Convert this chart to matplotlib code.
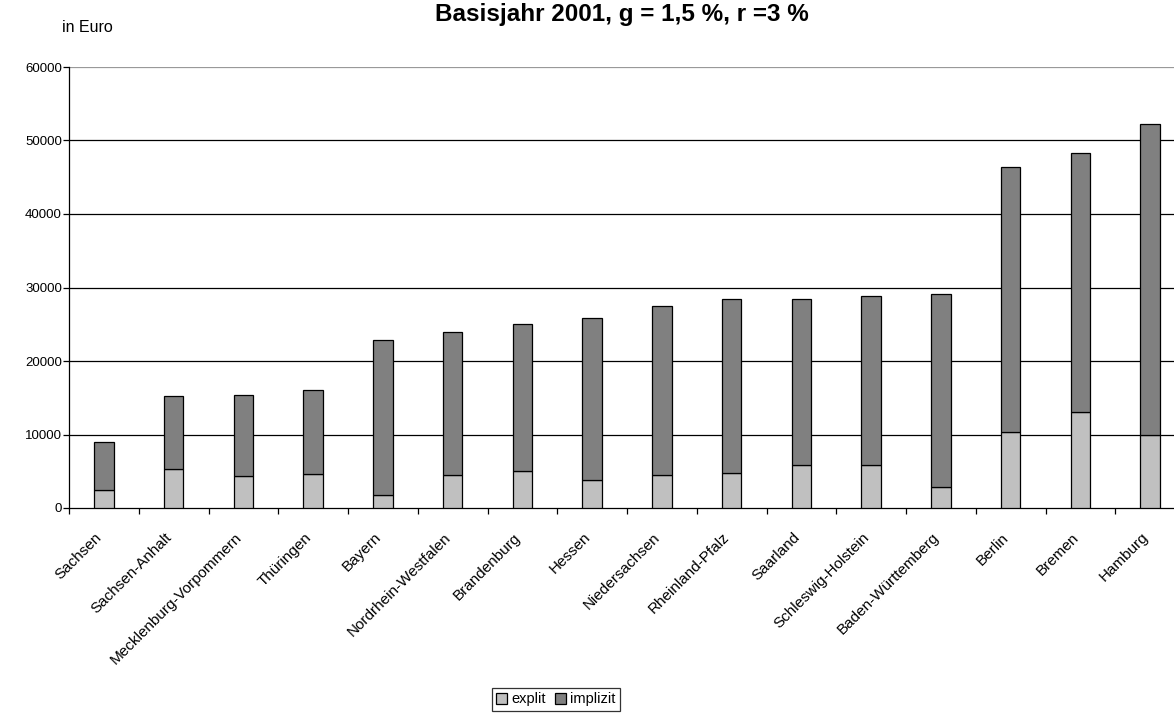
import matplotlib
matplotlib.use("Agg")
import matplotlib.pyplot as plt
import matplotlib.transforms as mtransforms
import numpy as np

plt.rcParams['font.family'] = ['Liberation Sans', 'DejaVu Sans']

categories = ["Sachsen", "Sachsen-Anhalt", "Mecklenburg-Vorpommern", "Thüringen", "Bayern",
              "Nordrhein-Westfalen", "Brandenburg", "Hessen", "Niedersachsen", "Rheinland-Pfalz",
              "Saarland", "Schleswig-Holstein", "Baden-Württemberg", "Berlin", "Bremen", "Hamburg"]
total = [9000, 15300, 15400, 16000, 22800, 24000, 25000, 25900, 27500, 28400,
         28500, 28900, 29100, 46400, 48300, 52200]
explizit = [2500, 5300, 4300, 4600, 1800, 4500, 5000, 3800, 4500, 4800,
            5800, 5800, 2900, 10400, 13100, 9900]
implizit = [t - e for t, e in zip(total, explizit)]
yticks = [0, 10000, 20000, 30000, 40000, 50000, 60000]

W, H = 1174, 713
fig = plt.figure(figsize=(W / 100, H / 100), dpi=100)
ax = fig.add_axes([69 / W, 1 - 508 / H, 1116 / W, 441 / H])

x = np.arange(len(categories))
bw = 0.28
ax.bar(x, explizit, bw, color='#C0C0C0', edgecolor='black', linewidth=0.9, label='explit', zorder=3)
ax.bar(x, implizit, bw, bottom=explizit, color='#808080', edgecolor='black', linewidth=0.9,
       label='implizit', zorder=3)

ax.set_xlim(-0.5, len(categories) - 0.5)
ax.set_ylim(0, 60000)
ax.set_yticks(yticks)
ax.set_yticklabels([str(v) for v in yticks], fontsize=9.5)
for v in yticks[1:]:
    ax.axhline(v, color='#999999' if v == 60000 else 'black', linewidth=0.9, zorder=1)

for s in ['top', 'right']:
    ax.spines[s].set_visible(False)
for s in ['left', 'bottom']:
    ax.spines[s].set_color('black')
    ax.spines[s].set_linewidth(0.9)
ax.tick_params(axis='y', direction='out', length=4, width=0.9, pad=1)

ax.set_xticks(x)
ax.set_xticklabels(categories, rotation=45, ha='right', rotation_mode='anchor', fontsize=11)
ax.tick_params(axis='x', which='major', length=0, pad=16)
offset = mtransforms.ScaledTranslation(-9 / 100, 0, fig.dpi_scale_trans)
for lbl in ax.get_xticklabels():
    lbl.set_transform(lbl.get_transform() + offset)
ax.set_xticks(np.arange(-0.5, len(categories) + 0.5, 1), minor=True)
ax.tick_params(axis='x', which='minor', direction='out', length=4, width=0.9)

fig.text(622 / W, 1 - 15 / H, "Basisjahr 2001, g = 1,5 %, r =3 %", ha='center', va='center',
         fontsize=17.5, fontweight='bold')
fig.text(62 / W, 1 - 27 / H, "in Euro", ha='left', va='center', fontsize=11.5)

leg = fig.legend(loc='upper center', bbox_to_anchor=(556 / W, 1 - 688 / H), ncol=2, fontsize=10.5,
                 frameon=True, fancybox=False, edgecolor='black', handlelength=0.75, handleheight=0.75,
                 handletextpad=0.3, columnspacing=0.6, borderpad=0.3, borderaxespad=0)
leg.get_frame().set_linewidth(0.9)

fig.savefig("out.png", dpi=100)
